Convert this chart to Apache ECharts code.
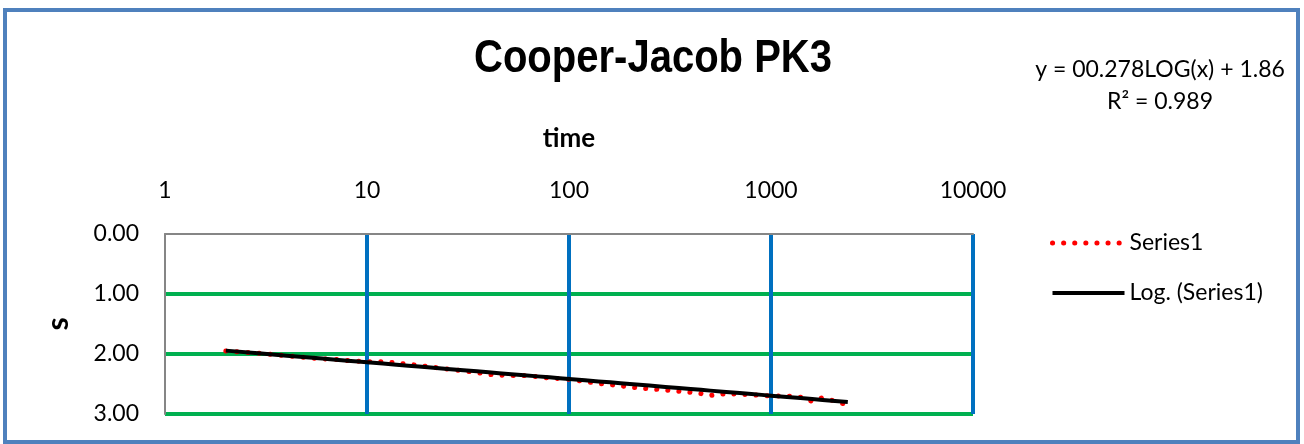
<!DOCTYPE html>
<html>
<head>
<meta charset="utf-8">
<script src="https://cdn.jsdelivr.net/npm/echarts@6/dist/echarts.min.js"></script>
<style>
  html, body { margin: 0; padding: 0; background: #fff; }
  #chart { width: 1304px; height: 444px; }
</style>
</head>
<body>
<div id="chart"></div>
<script>
// pumping test readings: time vs drawdown s
const times = [2, 3, 4, 5, 6, 7, 8, 9, 10, 12, 14, 16, 18, 20, 25, 30, 35, 40, 45, 50,
  60, 70, 80, 90, 100, 120, 140, 160, 180, 200, 250, 300, 350, 400, 450, 500,
  600, 700, 800, 900, 1000, 1200, 1400, 1600, 1800, 2000, 2400];
const drawdown = [1.95, 1.99, 2.03, 2.06, 2.08, 2.09, 2.11, 2.12, 2.13, 2.13, 2.15, 2.17, 2.19, 2.21, 2.25, 2.28, 2.31, 2.34, 2.35, 2.36,
  2.36, 2.38, 2.40, 2.41, 2.42, 2.46, 2.49, 2.51, 2.53, 2.55, 2.58, 2.60, 2.62, 2.64, 2.66, 2.69,
  2.66, 2.67, 2.68, 2.69, 2.70, 2.70, 2.72, 2.79, 2.73, 2.77, 2.85];
// excel log trendline: y = a*log(x) + b
const trendCoef = [0.278, 1.86];
const rSquared = 0.989;
const xTicks = [1, 10, 100, 1000, 10000];
const yTicks = [0, 1, 2, 3];

const font = "Lato, 'Noto Sans', sans-serif";
const boldFont = "'Liberation Sans', Arial, sans-serif";

var series1 = times.map((t, i) => [t, drawdown[i]]);
var trend = times.map(t => [t, trendCoef[0] * Math.log10(t) + trendCoef[1]]);

var dotStyle = { color: "#ff0000", width: 5, type: [0.1, 11], cap: "round" };
var trendStyle = { color: "#000000", width: 4 };

var chart = echarts.init(document.getElementById("chart"));
chart.setOption({
  animation: false,
  graphic: [
    {
      type: "rect",
      shape: { x: 5, y: 10, width: 1293, height: 432 },
      style: { fill: "none", stroke: "#4f81bd", lineWidth: 4 },
      silent: true
    },
    {
      // Arial Narrow look: squeeze a bold sans horizontally
      type: "text",
      x: 653,
      y: 59,
      scaleX: 0.87,
      style: {
        text: "Cooper-Jacob PK3",
        align: "center",
        verticalAlign: "middle",
        fontFamily: boldFont,
        fontSize: 46,
        fontWeight: "bold",
        fill: "#000"
      }
    },
    {
      type: "text",
      x: 1160,
      y: 54,
      style: {
        text: "y = 0" + trendCoef[0].toFixed(3) + "LOG(x) + " + trendCoef[1].toFixed(2) + "\nR² = " + rSquared,
        align: "center",
        fontFamily: font,
        fontSize: 23,
        lineHeight: 32,
        fill: "#000"
      }
    }
  ],
  legend: {
    orient: "vertical",
    left: 1050,
    top: 231,
    padding: 0,
    itemWidth: 72,
    itemHeight: 14,
    itemGap: 26,
    itemStyle: { opacity: 0 },
    textStyle: { fontFamily: font, fontSize: 23, color: "#000", lineHeight: 24 },
    data: [
      { name: "Series1", lineStyle: dotStyle },
      { name: "Log. (Series1)", lineStyle: trendStyle }
    ]
  },
  grid: { left: 165, right: 331, top: 234, bottom: 30 },
  xAxis: {
    type: "log",
    logBase: 10,
    min: xTicks[0],
    max: xTicks[xTicks.length - 1],
    position: "top",
    name: "time",
    nameLocation: "middle",
    nameGap: 82,
    nameTextStyle: { fontFamily: font, fontSize: 26, fontWeight: "bold", color: "#000" },
    axisLine: { show: true, onZero: false, lineStyle: { color: "#868686", width: 2 } },
    axisTick: { show: false },
    axisLabel: { fontFamily: font, fontSize: 23, color: "#000", margin: 32, formatter: v => String(v) },
    splitLine: { show: true, showMinLine: false, lineStyle: { color: "#0070c0", width: 4 } }
  },
  yAxis: {
    type: "value",
    inverse: true,
    min: yTicks[0],
    max: yTicks[yTicks.length - 1],
    interval: 1,
    name: "s",
    nameLocation: "middle",
    nameGap: 92,
    nameTextStyle: { fontFamily: font, fontSize: 30, fontWeight: "bold", color: "#000" },
    axisLine: { show: true, lineStyle: { color: "#868686", width: 2 } },
    axisTick: { show: false },
    axisLabel: { fontFamily: font, fontSize: 23, color: "#000", margin: 26, formatter: v => v.toFixed(2) },
    splitLine: { show: true, showMinLine: false, lineStyle: { color: "#00b050", width: 4 } }
  },
  series: [
    {
      name: "Series1",
      type: "line",
      data: series1,
      symbol: "none",
      lineStyle: dotStyle,
      itemStyle: { color: "#ff0000" },
      z: 3
    },
    {
      name: "Log. (Series1)",
      type: "line",
      data: trend,
      symbol: "none",
      lineStyle: trendStyle,
      itemStyle: { color: "#000000" },
      z: 4
    }
  ]
});
</script>
</body>
</html>
